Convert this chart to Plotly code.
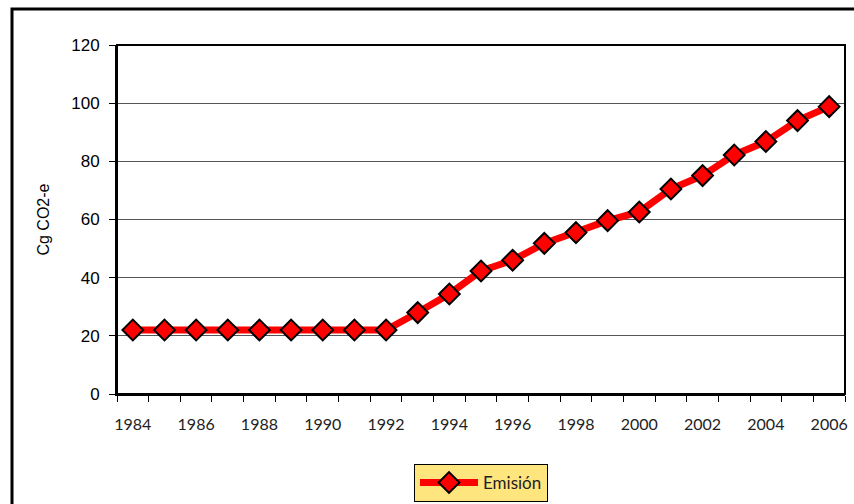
import plotly.graph_objects as go

years = list(range(1984, 2007))
emision = [22, 22, 22, 22, 22, 22, 22, 22, 22,
           28.0, 34.4, 42.3, 46.0, 51.8, 55.5, 59.6, 62.6,
           70.5, 75.1, 82.2, 86.8, 94.0, 98.8]
tick_years = list(range(1984, 2007, 2))
series_name = "Emisión"
y_title = "Cg CO2-e"

W, H = 854, 504
L, R, T, B = 117, 9, 45, 110
pw, ph = W - L - R, H - T - B

def px_x(x):
    return (x - L) / pw

def px_y(y):
    return 1 - (y - T) / ph

fig = go.Figure()
fig.add_trace(go.Scatter(
    x=years, y=emision, name=series_name, mode="lines+markers",
    line=dict(color="#FF0000", width=7),
    marker=dict(symbol="diamond", size=16, color="#FF0000",
                line=dict(color="black", width=2)),
))

fig.update_layout(
    template="none",
    width=W, height=H,
    margin=dict(l=L, r=R, t=T, b=B, autoexpand=False),
    paper_bgcolor="white", plot_bgcolor="white",
    showlegend=True,
    legend=dict(
        x=px_x(481), y=px_y(464), xanchor="center", yanchor="top",
        orientation="h",
        bgcolor="#FFE57E", bordercolor="black", borderwidth=1,
        font=dict(family="Lato, Open Sans, sans-serif", size=17, color="#222"),
        itemwidth=58,
    ),
    xaxis=dict(
        type="linear", range=[1983.5, 2006.5],
        tickmode="array", tickvals=tick_years,
        ticktext=[str(y) for y in tick_years],
        ticks="", showgrid=False, zeroline=False,
        showline=True, linecolor="black", linewidth=2,
        tickfont=dict(family="Lato, Open Sans, sans-serif", size=16, color="#222"),
        ticklabelstandoff=15,
        minor=dict(ticks="outside", ticklen=6, tickwidth=1, tickcolor="black",
                   tick0=1983.5, dtick=1, showgrid=False),
    ),
    yaxis=dict(
        range=[0, 120], tickmode="linear", tick0=0, dtick=20,
        ticks="outside", ticklen=6, tickcolor="black", tickwidth=1,
        showgrid=True, gridcolor="#555555", gridwidth=1,
        zeroline=False, showline=True, linecolor="black", linewidth=2,
        tickfont=dict(family="Liberation Sans, Arial, sans-serif", size=17, color="black"),
        ticklabelstandoff=6,
        title=dict(text=y_title, standoff=18,
                   font=dict(family="Liberation Sans, Arial, sans-serif", size=16, color="black")),
    ),
)

# plot area border
fig.add_shape(type="rect", xref="paper", yref="paper", x0=0, x1=1, y0=0, y1=1,
              line=dict(color="black", width=2), layer="above")
# outer chart border (extends past the right and bottom of the view)
fig.add_shape(type="rect", xref="paper", yref="paper",
              x0=px_x(12), x1=px_x(900), y0=px_y(560), y1=px_y(9),
              line=dict(color="black", width=3), layer="above")

fig.write_html("out.html", config={"displayModeBar": False},
               post_script="document.body.style.margin='0';document.body.style.padding='0';")
